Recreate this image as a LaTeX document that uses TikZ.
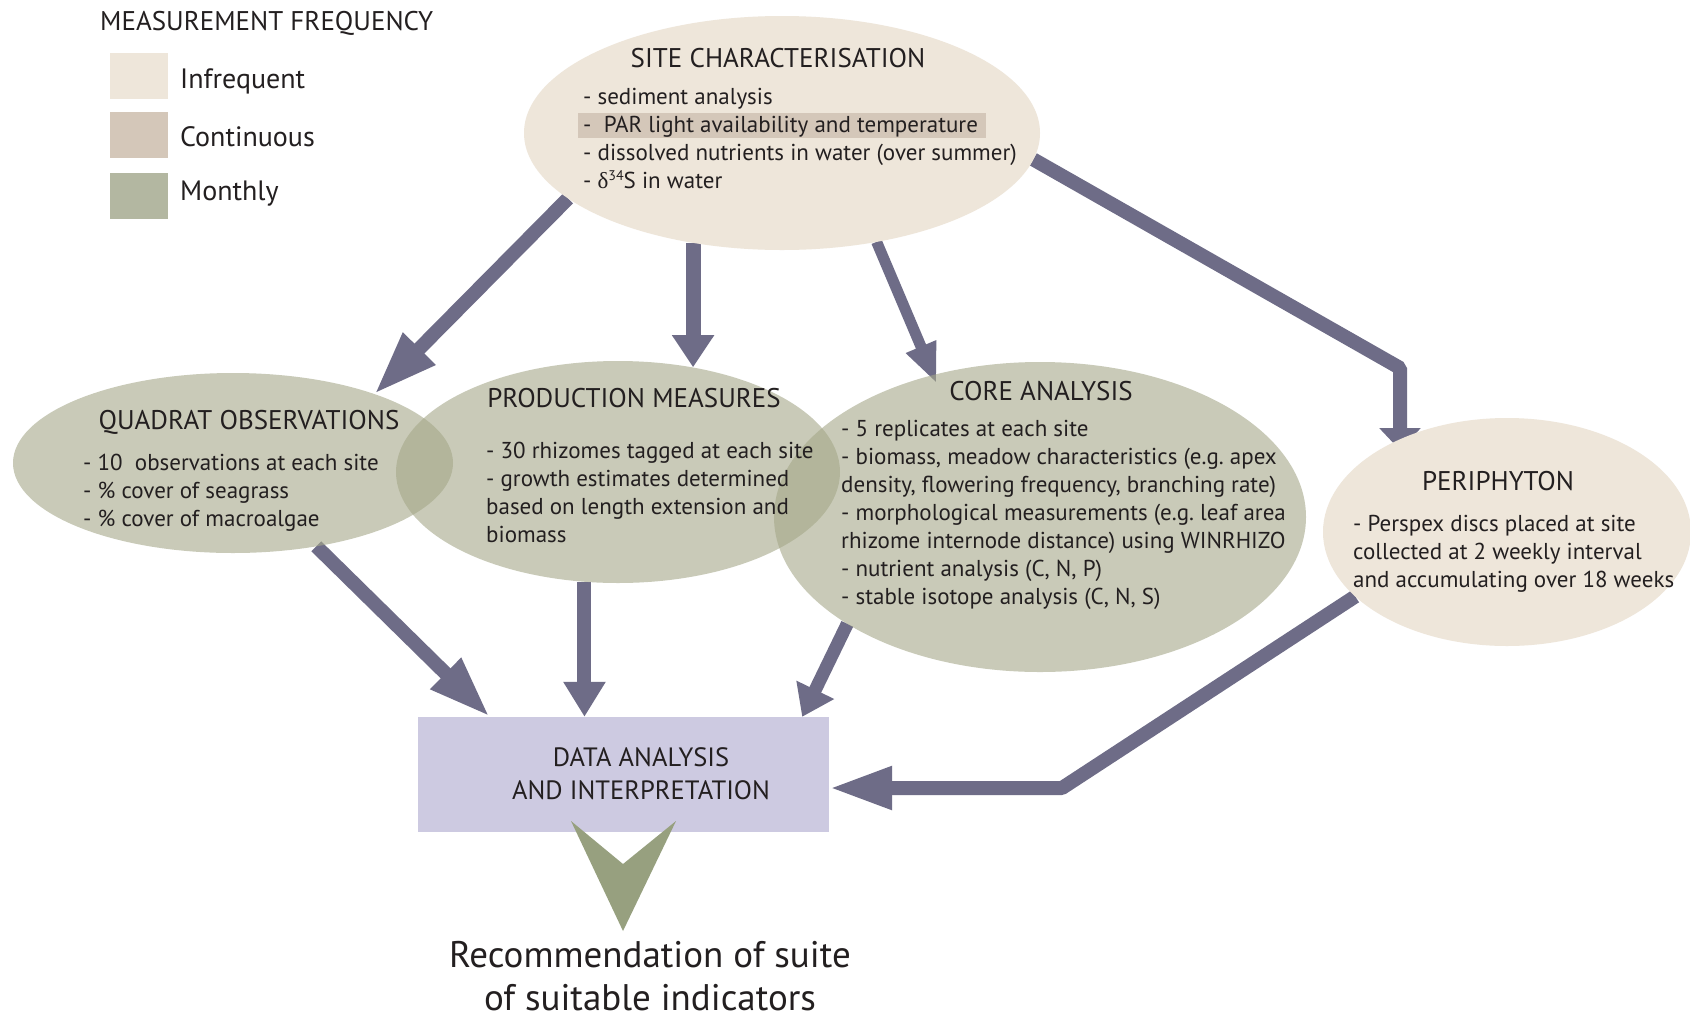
\documentclass[tikz,border=0pt]{standalone}
\usepackage{fontspec}
\setmainfont{PT Sans}
\newfontfamily\grkfont{Liberation Serif}
\usetikzlibrary{shapes.geometric,arrows.meta,calc}
\definecolor{infreq}{HTML}{EEE6DA}
\definecolor{contin}{HTML}{D4C7B9}
\definecolor{monthly}{HTML}{B3B7A1}
\definecolor{greenell}{HTML}{A5A889}
\definecolor{arrowc}{HTML}{6E6C87}
\definecolor{databox}{HTML}{CDCAE1}
\definecolor{vgreen}{HTML}{97A07F}
\definecolor{txt}{HTML}{231F20}
\pgfdeclarelayer{bg}
\pgfsetlayers{bg,main}
\newcommand\fsz[2]{\fontsize{#1}{#2}\selectfont}
\frenchspacing
\begin{document}
\begin{tikzpicture}[x=1pt,y=-1pt,
  infell/.style={ellipse, draw=none, fill=infreq, inner sep=0pt, outer sep=0pt},
  monell/.style={ellipse, draw=none, fill=greenell, fill opacity=0.6, inner sep=0pt, outer sep=0pt},
  ttl/.style={text=txt, font=\fsz{27}{30}, inner sep=0pt},
  body/.style={text=txt, font=\fsz{23}{28}, align=left, inner sep=0pt, anchor=north west},
  swatch/.style={minimum width=58pt, minimum height=46pt, inner sep=0pt, anchor=north west},
  legtxt/.style={text=txt, font=\fsz{28}{32}, inner sep=0pt, anchor=west},
  conn/.style={draw=arrowc, line width=14pt, line join=bevel}]
\useasboundingbox (0,0) rectangle (1690,1021);

% legend
\node[legtxt, font=\fsz{27}{30}] (legtitle) at (100,23) {MEASUREMENT FREQUENCY};
\node[swatch, fill=infreq] (sw1) at (110,53) {};
\node[swatch, fill=contin] (sw2) at (110,112) {};
\node[swatch, fill=monthly] (sw3) at (110,173) {};
\node[legtxt] (lg1) at (180,81) {Infrequent};
\node[legtxt] (lg2) at (180,137) {Continuous};
\node[legtxt] (lg3) at (180,194) {Monthly};

% ellipses
\node[infell, minimum width=516pt, minimum height=234pt] (site) at (782,133) {};
\node[monell, minimum width=440pt, minimum height=180pt] (quad) at (233,463) {};
\node[monell, minimum width=444pt, minimum height=222pt] (prod) at (618,472) {};
\node[monell, minimum width=532pt, minimum height=310pt] (core) at (1040,517) {};
\node[infell, minimum width=368pt, minimum height=228pt] (peri) at (1507,532) {};
\node[draw=none, fill=databox, minimum width=411pt, minimum height=115pt, inner sep=0pt] (data) at (623.5,774.5) {};

% highlight bar
\node[fill=contin, minimum width=408pt, minimum height=25pt, inner sep=0pt, anchor=north west] (parbar) at (578,113) {};

% titles
\node[ttl] (sitet) at (778,58) {SITE CHARACTERISATION};
\node[ttl] (quadt) at (249,422) {QUADRAT OBSERVATIONS};
\node[ttl] (prodt) at (634,398) {PRODUCTION MEASURES};
\node[ttl] (coret) at (1041,391) {CORE ANALYSIS};
\node[ttl] (perit) at (1498,481) {PERIPHYTON};

% body texts
\node[body] (sitetx) at (583,88) {- sediment analysis\\
-~ PAR light availability and temperature\\
- dissolved nutrients in water (over summer)\\
- {\grkfont δ}\raisebox{8pt}{\fsz{14}{14}34}S in water};
\node[body] (quadtx) at (83,454) {- 10~ observations at each site\\
- \% cover of seagrass\\
- \% cover of macroalgae};
\node[body] (prodtx) at (486,442) {- 30 rhizomes tagged at each site\\
- growth estimates determined\\
based on length extension and\\
biomass};
\node[body] (coretx) at (841,420) {- 5 replicates at each site\\
- biomass, meadow characteristics (e.g. apex\\
density, flowering frequency, branching rate)\\
- morphological measurements (e.g. leaf area\\
rhizome internode distance) using WINRHIZO\\
- nutrient analysis (C, N, P)\\
- stable isotope analysis (C, N, S)};
\node[body] (peritx) at (1353,515) {- Perspex discs placed at site\\
collected at 2 weekly interval\\
and accumulating over 18 weeks};

\node[text=txt, font=\fsz{26.5}{33}, align=center, inner sep=0pt] (datatx) at (641,774) {DATA ANALYSIS\\AND INTERPRETATION};

% green chevron
\fill[vgreen] (571,821) -- (623,864) -- (676,821) -- (623,931) -- cycle;
\node[text=txt, font=\fsz{37}{43}, align=center, inner sep=0pt] (recom) at (650,976) {Recommendation of suite\\of suitable indicators};

\coordinate (sbend) at (1400,368);
\coordinate (pbend) at (1062,788);

\begin{pgfonlayer}{bg}
\fill[white] (0,0) rectangle (1690,1021);
\draw[conn, -{Triangle[length=64pt,width=42pt]}] (site.197) -- (quad.26);
\draw[conn, line width=15pt, -{Triangle[length=32pt,width=40pt]}] (site.231) -- (site.231 |- prod.55);
\draw[conn, line width=11pt, shorten >=-9pt, -{Triangle[length=40pt,width=30pt]}] (site.311) -- (core.127);
\draw[conn, shorten >=-11pt, -{Triangle[length=22pt,width=40pt]}] (site.354) -- (sbend) -- (sbend |- peri.139);
\draw[conn, -{Triangle[length=62pt,width=40pt]}] (quad.315) -- ([xshift=72pt]data.north west);
\draw[conn, -{Triangle[length=35pt,width=40pt]}] (prod.253) -- (prod.253 |- data.north);
\draw[conn, line width=13pt, -{Triangle[length=30pt,width=40pt]}] (core.209) -- ([xshift=-27pt]data.north east);
\draw[conn, -{Triangle[length=63pt,width=40pt]}] (peri.203) -- (pbend) -- (pbend -| data.east);
\end{pgfonlayer}
\end{tikzpicture}
\end{document}
